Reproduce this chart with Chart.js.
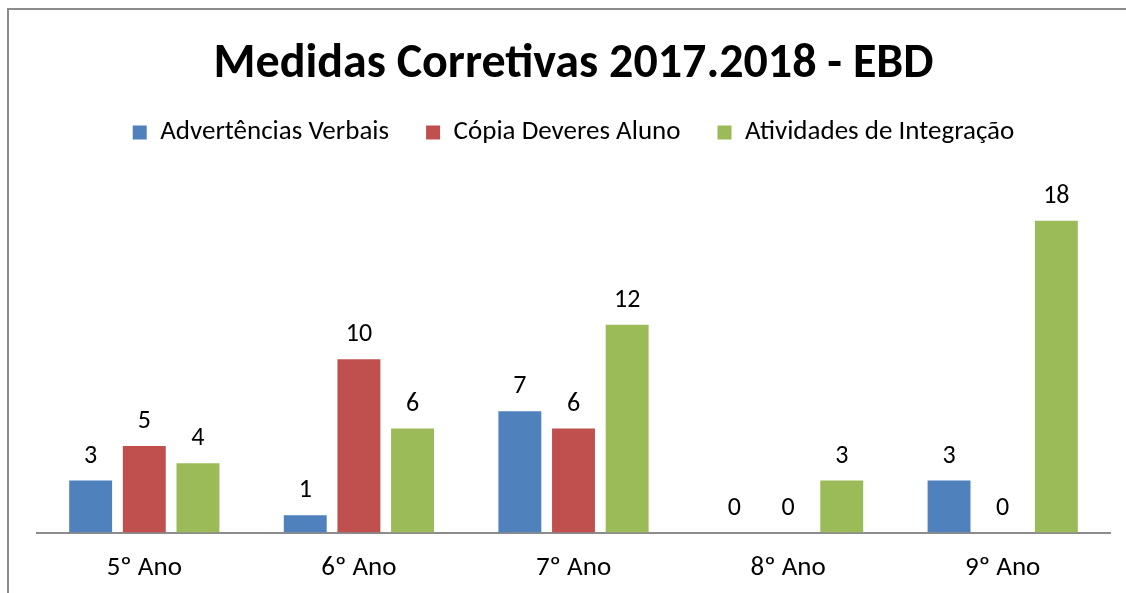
<!DOCTYPE html>
<html lang="pt">
<head>
    <meta charset="UTF-8">
    <title>Medidas Corretivas 2017.2018 - EBD</title>
    <script src="https://cdn.jsdelivr.net/npm/chart.js"></script>
    <style>
        body {
            margin: 0;
            background: #fff;
            overflow: hidden;
        }
        #frame {
            position: absolute;
            left: 7px;
            top: 8px;
            width: 1200px;
            height: 700px;
            border-left: 2px solid #8c8c8c;
            border-top: 2px solid #8c8c8c;
        }
        #wrap {
            position: absolute;
            left: 0;
            top: 0;
            width: 1126px;
            height: 593px;
        }
    </style>
</head>
<body>
    <div id="frame"></div>
    <div id="wrap"><canvas id="chart"></canvas></div>

    <script>
        // chart data
        const anos = ['5º Ano', '6º Ano', '7º Ano', '8º Ano', '9º Ano'];
        const advertencias = [3, 1, 7, 0, 3];
        const copiaDeveres = [5, 10, 6, 0, 0];
        const atividades = [4, 6, 12, 3, 18];

        const fontName = 'Carlito, Lato, sans-serif';

        // draws the value above each bar
        const valueLabels = {
            id: 'valueLabels',
            afterDatasetsDraw(chart) {
                const ctx = chart.ctx;
                ctx.save();
                ctx.font = '26px ' + fontName;
                ctx.fillStyle = '#000';
                ctx.textAlign = 'center';
                ctx.textBaseline = 'alphabetic';
                chart.data.datasets.forEach((ds, i) => {
                    chart.getDatasetMeta(i).data.forEach((bar, j) => {
                        ctx.fillText(ds.data[j], bar.x, bar.y - 18);
                    });
                });
                ctx.restore();
            }
        };

        // empty box between legend and plot area
        const legendGap = {
            id: 'legendGap',
            beforeInit(chart) {
                Chart.layouts.addBox(chart, {
                    position: 'top',
                    weight: 1,
                    fullSize: true,
                    options: {},
                    isHorizontal() { return true; },
                    update(maxWidth) {
                        this.width = maxWidth;
                        this.height = 30;
                    },
                    draw() {}
                });
            }
        };

        new Chart(document.getElementById('chart'), {
            type: 'bar',
            data: {
                labels: anos,
                datasets: [
                    { label: 'Advertências Verbais', data: advertencias, backgroundColor: '#4F81BD' },
                    { label: 'Cópia Deveres Aluno', data: copiaDeveres, backgroundColor: '#C0504D' },
                    { label: 'Atividades de Integração', data: atividades, backgroundColor: '#9BBB59' }
                ]
            },
            options: {
                responsive: true,
                maintainAspectRatio: false,
                animation: false,
                categoryPercentage: 0.75,
                barPercentage: 0.8,
                layout: { padding: { left: 37, right: 16, top: 0, bottom: -10 } },
                plugins: {
                    title: {
                        display: true,
                        text: 'Medidas Corretivas 2017.2018 - EBD',
                        color: '#000',
                        font: { family: fontName, size: 48, weight: 'bold', lineHeight: 1.0 },
                        padding: { top: 41, bottom: -7 }
                    },
                    legend: {
                        labels: {
                            color: '#000',
                            font: { family: fontName, size: 27 },
                            boxWidth: 14,
                            boxHeight: 14,
                            padding: 37
                        }
                    },
                    tooltip: { enabled: false }
                },
                scales: {
                    x: {
                        grid: { display: false, drawTicks: false },
                        border: { display: true, color: '#8c8c8c', width: 2 },
                        ticks: { color: '#000', padding: 19, font: { family: fontName, size: 27 } }
                    },
                    y: {
                        display: false,
                        min: 0,
                        max: 20
                    }
                }
            },
            plugins: [valueLabels, legendGap]
        });
    </script>
</body>
</html>
